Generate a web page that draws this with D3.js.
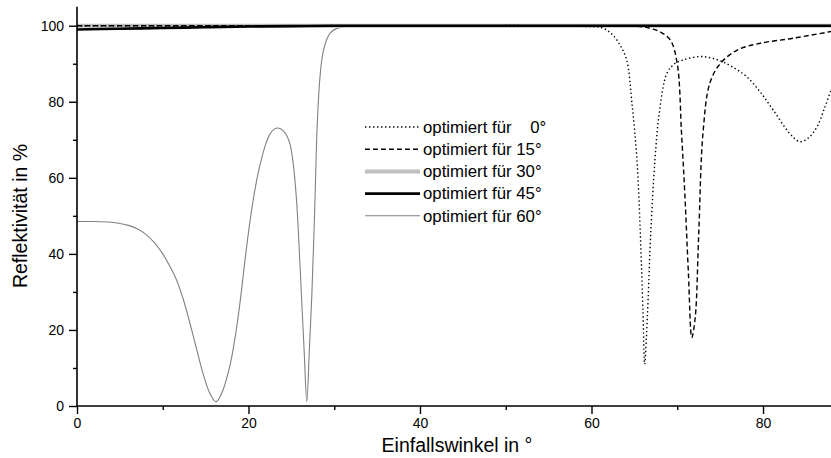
<!DOCTYPE html>
<html>
<head>
<meta charset="utf-8">
<script src="https://cdn.jsdelivr.net/npm/d3@7"></script>
<style>
  body { margin: 0; background: #fff; }
  svg { display: block; font-family: "Liberation Sans", Arial, sans-serif; }
</style>
</head>
<body>
<script>
// Einfallswinkel (deg) und Reflektivität (%) je Optimierung
const x0 = [0, 20, 40, 55, 59, 61.3, 62.5, 63.3, 64.1, 64.7, 65.3, 65.7, 66.0, 66.2, 66.4, 66.6, 66.9, 67.4, 67.9, 68.8, 69.7, 70.7, 72.6, 74, 75.3, 76.7, 78.1, 79.7, 81.2, 83.1, 84.3, 85.3, 86.3, 87.2, 88];
const y0 = [100, 100, 100, 100, 99.8, 99.4, 97.5, 95, 91, 80, 64.7, 45, 25, 11, 18, 28, 45, 64.7, 77, 87.5, 90, 91, 91.9, 91.5, 90.5, 88.8, 86.6, 82.5, 77.8, 71.7, 69.5, 70.5, 73.4, 78.5, 83.5];

const x15 = [0, 20, 40, 60, 64, 66, 67, 68, 69.2, 70, 70.5, 70.9, 71.3, 71.7, 72.1, 72.5, 73, 73.8, 75, 77, 79.7, 83.5, 88];
const y15 = [100, 100, 100, 100, 99.9, 99.7, 99.2, 98.4, 96.2, 90, 71.7, 55, 35, 18, 23.4, 45, 71.7, 84.9, 90, 93.6, 95.4, 96.7, 98.5];

const x30 = [0, 20, 40, 60, 88];
const y30 = [100, 100, 100, 100, 100];

const x45 = [0, 5, 10, 15, 20, 25, 30, 40, 60, 88];
const y45 = [99.0, 99.2, 99.4, 99.6, 99.8, 99.9, 100, 100, 100, 100];

const x60 = [0, 2, 4, 5, 6, 7, 8, 9, 10, 11, 11.6, 12.4, 13.2, 14, 14.7, 15.5, 16.2, 16.9, 17.8, 18.4, 19, 19.6, 20.2, 20.8, 21.3, 22, 22.5, 23, 23.5, 24.2, 24.8, 25.2, 25.6, 25.9, 26.2, 26.5, 26.8, 27.1, 27.4, 27.7, 28.0, 28.3, 28.6, 29.0, 29.5, 30.3, 31.5, 32.6, 40, 60, 88];
const y60 = [48.5, 48.5, 48.3, 48.0, 47.5, 46.6, 45.2, 43.0, 40.0, 36.0, 33.2, 28, 21.5, 14.5, 8.5, 3.3, 1.1, 3.5, 10.3, 17.5, 27, 38.5, 49, 57.5, 63, 68.8, 71.5, 72.8, 73.1, 72, 69.2, 64, 54.2, 42, 27.9, 14, 1.1, 15, 30, 50, 73, 85.5, 91.8, 95.6, 98, 99.3, 99.8, 100, 100, 100, 100];

const labels = ["optimiert für \u2007 0°", "optimiert für 15°", "optimiert für 30°", "optimiert für 45°", "optimiert für 60°"];

const width = 831, height = 458;
const plot = { left: 77, right: 831.6, top: 6.7, bottom: 406 };

const xScale = d3.scaleLinear().domain([0, 88]).range([plot.left, plot.right]);
const yScale = d3.scaleLinear().domain([0, 105]).range([plot.bottom, plot.top]);

const svg = d3.select("body")
  .append("svg")
  .attr("width", width)
  .attr("height", height);

const series = [
  { x: x60, y: y60, color: "#808080", w: 1.1, dash: null },
  { x: x30, y: y30, color: "#c0c0c0", w: 4, dash: null },
  { x: x45, y: y45, color: "#000", w: 2.6, dash: null },
  { x: x0, y: y0, color: "#000", w: 1.4, dash: "1.4,2.6" },
  { x: x15, y: y15, color: "#000", w: 1.4, dash: "5,3" }
];
// Reihenfolge in der Legende: 0°, 15°, 30°, 45°, 60°
const legendOrder = [series[3], series[4], series[1], series[2], series[0]];

const line = d3.line()
  .x((d) => xScale(d[0]))
  .y((d) => yScale(d[1]))
  .curve(d3.curveCatmullRom.alpha(0.5));

series.forEach((s) => {
  svg.append("path")
    .datum(s.x.map((v, i) => [v, s.y[i]]))
    .attr("fill", "none")
    .attr("stroke", s.color)
    .attr("stroke-width", s.w)
    .attr("stroke-dasharray", s.dash)
    .attr("d", line);
});

// Achsen
const xAxis = svg.append("g")
  .attr("transform", "translate(0," + plot.bottom + ")")
  .call(d3.axisBottom(xScale).tickValues([0, 20, 40, 60, 80]).tickSize(8).tickPadding(4));

svg.append("g")
  .attr("transform", "translate(0," + plot.bottom + ")")
  .call(d3.axisBottom(xScale).tickValues([10, 30, 50, 70]).tickSize(4).tickFormat(""))
  .select(".domain").remove();

const yAxis = svg.append("g")
  .attr("transform", "translate(" + plot.left + ",0)")
  .call(d3.axisLeft(yScale).tickValues([0, 20, 40, 60, 80, 100]).tickSize(8).tickPadding(5));

svg.append("g")
  .attr("transform", "translate(" + plot.left + ",0)")
  .call(d3.axisLeft(yScale).tickValues([10, 30, 50, 70, 90]).tickSize(4).tickFormat(""))
  .select(".domain").remove();

svg.selectAll(".domain").attr("stroke-width", 1.6);
xAxis.select(".domain").attr("d", "M" + plot.left + ",0H" + plot.right);
yAxis.select(".domain").attr("d", "M0," + plot.bottom + "V" + plot.top);
svg.selectAll(".tick line").attr("stroke-width", 1.4);
svg.selectAll(".tick text").style("font-size", "14px").attr("fill", "#000");

svg.append("text")
  .attr("x", 457)
  .attr("y", 452)
  .attr("text-anchor", "middle")
  .style("font-size", "19.5px")
  .text("Einfallswinkel in °");

svg.append("text")
  .attr("transform", "translate(27,216) rotate(-90)")
  .attr("text-anchor", "middle")
  .style("font-size", "19.5px")
  .text("Reflektivität in %");

// Legende
const legend = svg.append("g").attr("transform", "translate(365,127)");

legend.selectAll("line")
  .data(legendOrder)
  .enter()
  .append("line")
  .attr("x1", 0)
  .attr("x2", 55)
  .attr("y1", (d, i) => i * 22.2)
  .attr("y2", (d, i) => i * 22.2)
  .attr("stroke", (d) => d.color)
  .attr("stroke-width", (d) => d.w)
  .attr("stroke-dasharray", (d) => d.dash);

legend.selectAll("text")
  .data(labels)
  .enter()
  .append("text")
  .attr("x", 58)
  .attr("y", (d, i) => i * 22.2)
  .attr("dy", "0.35em")
  .style("font-size", "16.8px")
  .text((d) => d);
</script>
</body>
</html>
